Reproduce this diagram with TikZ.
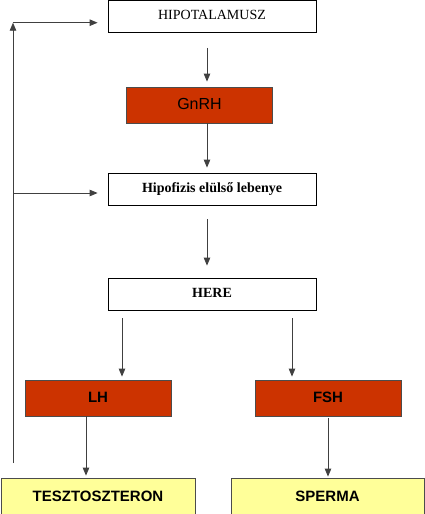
\documentclass[tikz,border=0pt]{standalone}
\usepackage{fontspec}
\setmainfont{Liberation Serif}
\newfontfamily\arialfont{Liberation Sans}
\usetikzlibrary{arrows.meta}
\definecolor{boxred}{HTML}{CC3300}
\definecolor{boxyellow}{HTML}{FFFF99}
\tikzset{
  whitebox/.style={draw=black, line width=0.8pt, fill=white, minimum width=208pt, minimum height=32pt, inner sep=0pt, font=\fontsize{14}{16}\selectfont},
  redbox/.style={draw=black!70, line width=0.8pt, fill=boxred, minimum width=146pt, minimum height=36pt, inner sep=0pt, font=\arialfont\fontsize{15}{17}\selectfont},
  yellowbox/.style={draw=black!70, line width=0.8pt, fill=boxyellow, minimum width=194pt, minimum height=40pt, inner sep=0pt, font=\arialfont\bfseries\fontsize{15}{17}\selectfont},
  arr/.style={draw=black!75, line width=0.9pt, -{Triangle[length=8pt,width=6.5pt]}, color=black!75}
}
\begin{document}
\begin{tikzpicture}[x=1pt,y=-1pt]
\useasboundingbox (0,0) rectangle (425,514);
\node[whitebox] (hipo) at (212,16.5) {\raisebox{3pt}{HIPOTALAMUSZ}};
\node[redbox, font=\arialfont\fontsize{16}{18}\selectfont] (gnrh) at (199.5,105) {\raisebox{2pt}{GnRH}};
\node[whitebox, font=\bfseries\fontsize{14}{16}\selectfont] (hipof) at (212,189) {Hipofizis elülső lebenye};
\node[whitebox, font=\bfseries\fontsize{14}{16}\selectfont] (here) at (212,294) {\raisebox{2pt}{HERE}};
\node[redbox, font=\arialfont\bfseries\fontsize{15}{17}\selectfont] (lh) at (98,398) {\raisebox{2pt}{LH}};
\node[redbox, font=\arialfont\bfseries\fontsize{15}{17}\selectfont] (fsh) at (328,398) {\raisebox{2pt}{FSH}};
\node[yellowbox] (tesz) at (98,498) {\raisebox{3pt}{TESZTOSZTERON}};
\node[yellowbox, minimum width=193pt] (sperma) at (327.5,498) {\raisebox{3pt}{SPERMA}};
% main chain
\draw[arr, shorten <=15pt, shorten >=5pt] ([xshift=-5pt]hipo.south) -- ([xshift=7.5pt]gnrh.north);
\draw[arr, shorten >=5pt] ([xshift=7.5pt]gnrh.south) -- ([xshift=-5pt]hipof.north);
\draw[arr, shorten <=14pt, shorten >=12pt] ([xshift=-5pt]hipof.south) -- ([xshift=-5pt]here.north);
\draw[arr, shorten <=8pt, shorten >=3pt] ([xshift=24pt]lh.north |- here.south) -- ([xshift=24pt]lh.north);
\draw[arr, shorten <=8pt, shorten >=3pt] ([xshift=-36pt]fsh.north |- here.south) -- ([xshift=-36pt]fsh.north);
\draw[arr, shorten >=2pt] ([xshift=-12pt]lh.south) -- ([xshift=-12pt]tesz.north);
\draw[arr, shorten <=2pt, shorten >=1pt] (fsh.south) -- (fsh.south |- sperma.north);
% feedback
\coordinate (fb) at (13,463);
\coordinate (top) at (13,22.7);
\draw[arr] (fb) -- (top);
\draw[arr, shorten >=10pt] (top) -- (top -| hipo.west);
\draw[arr, shorten >=10pt] ([yshift=-4pt]hipof.west -| fb) -- ([yshift=-4pt]hipof.west);
\end{tikzpicture}
\end{document}
